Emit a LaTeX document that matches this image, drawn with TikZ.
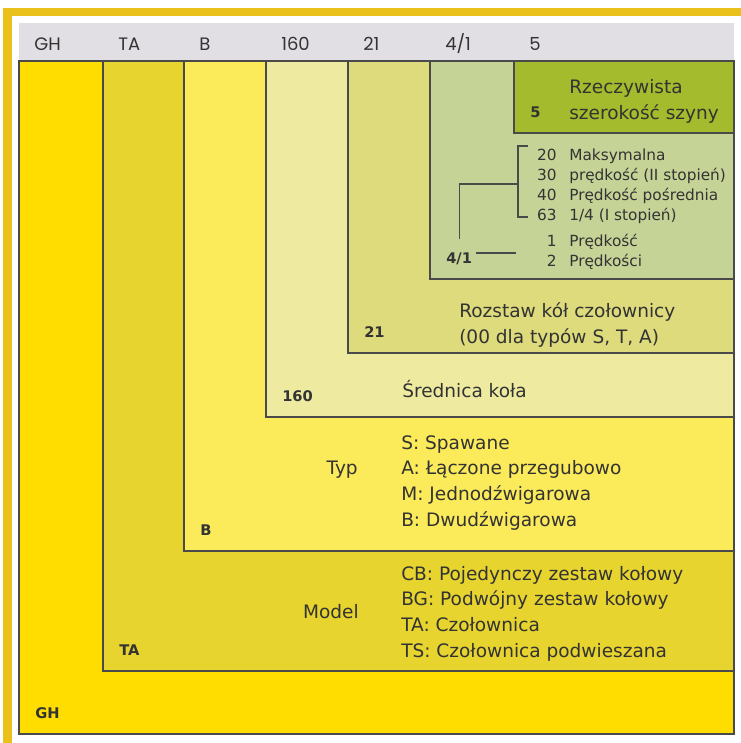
\documentclass[tikz,border=0pt]{standalone}
\usepackage{fontspec}
\setmainfont{DejaVu Sans}
\newfontfamily\hdrfont{Poppins}
\usetikzlibrary{positioning,calc}

\definecolor{framegold}{HTML}{E9C11A}
\definecolor{hdrgray}{HTML}{E1DFE3}
\definecolor{ghcol}{HTML}{FFDD00}
\definecolor{tacol}{HTML}{E7D42E}
\definecolor{bcol}{HTML}{FBEA5A}
\definecolor{dcol}{HTML}{EEEBA1}
\definecolor{rcol}{HTML}{DEDB7C}
\definecolor{vcol}{HTML}{C6D397}
\definecolor{scol}{HTML}{A3BB2C}
\definecolor{txtgray}{HTML}{333333}
\definecolor{linegray}{HTML}{4A4A4A}

\tikzset{
  box/.style={draw=linegray, line width=0.9pt},
  conn/.style={draw=linegray, line width=0.8pt},
  hdr/.style={anchor=base west, inner sep=0pt, text=txtgray, font=\hdrfont\fontsize{13.5}{15}\selectfont},
  code/.style={anchor=base west, inner sep=0pt, text=txtgray, font=\bfseries\fontsize{11}{13}\selectfont},
  desc/.style={anchor=base west, inner sep=0pt, align=left, text=txtgray, font=\fontsize{13.9}{19.2}\selectfont},
  small/.style={inner sep=0pt, text=txtgray, font=\fontsize{11.5}{13}\selectfont},
}

\begin{document}
\begin{tikzpicture}[x=0.75pt,y=-0.75pt]
    \useasboundingbox (0,0) rectangle (741,743);
    \fill[framegold] (3,8) rectangle (741,16); % Frame top
    \fill[framegold] (3,8) rectangle (12,743); % Frame left
    \fill[hdrgray] (19,23) rectangle (734,61); % Header

    % Nested boxes with code letters
    \foreach \l/\b/\c/\t [count=\i] in {19/734/ghcol/GH, 103/671/tacol/TA, 184/551/bcol/B, 266/417/dcol/160, 348/353/rcol/21, 430/279/vcol/{4/1}, 514/133/scol/5} {
        \filldraw[box, fill=\c] (\l,61) rectangle (734,\b);
        \node[hdr] (h\i) at (\l+15,50) {\t};
        \node[code] (c\i) at (\l+16,\b-16) {\t};
    }

    % base of a multi-line node = its last line
    \node[desc] (rzecz) at (569,119) {Rzeczywista\\szerokość szyny};

    % Speed list
    \foreach \n/\t/\y [count=\i] in {20/Maksymalna/160, 30/{prędkość (II stopień)}/180, 40/{Prędkość pośrednia}/200, 63/{1/4 (I stopień)}/220, 1/Prędkość/246.7, 2/Prędkości/266.7} {
        \node[small, anchor=base east] (n\i) at (557,\y) {\n};
        \node[small, anchor=base west] (t\i) at (569,\y) {\t};
    }
    \coordinate (bt) at (528,146);
    \coordinate (bb) at (528,217);
    \coordinate (bm) at (518,184);
    \draw[conn] (bt) -| (bm) |- (bb);
    \draw[conn] (bm) -| ([yshift=10pt]c6.north);
    \draw[conn] ([shift={(3pt,4pt)}]c6.east) -- ++(30pt,0);

    \node[desc] (rozst) at (459,343) {Rozstaw kół czołownicy\\(00 dla typów S, T, A)};
    \node[desc] (sred) at (402,397) {Średnica koła};

    \node[desc, anchor=base east] (typ) at (358,474) {Typ};
    \node[desc] (typlist) at (401,526) {S: Spawane\\A: Łączone przegubowo\\M: Jednodźwigarowa\\B: Dwudźwigarowa};

    \node[desc, anchor=base east] (model) at (359,618) {Model};
    \node[desc] (modlist) at (401,657) {CB: Pojedynczy zestaw kołowy\\BG: Podwójny zestaw kołowy\\TA: Czołownica\\TS: Czołownica podwieszana};
\end{tikzpicture}
\end{document}
